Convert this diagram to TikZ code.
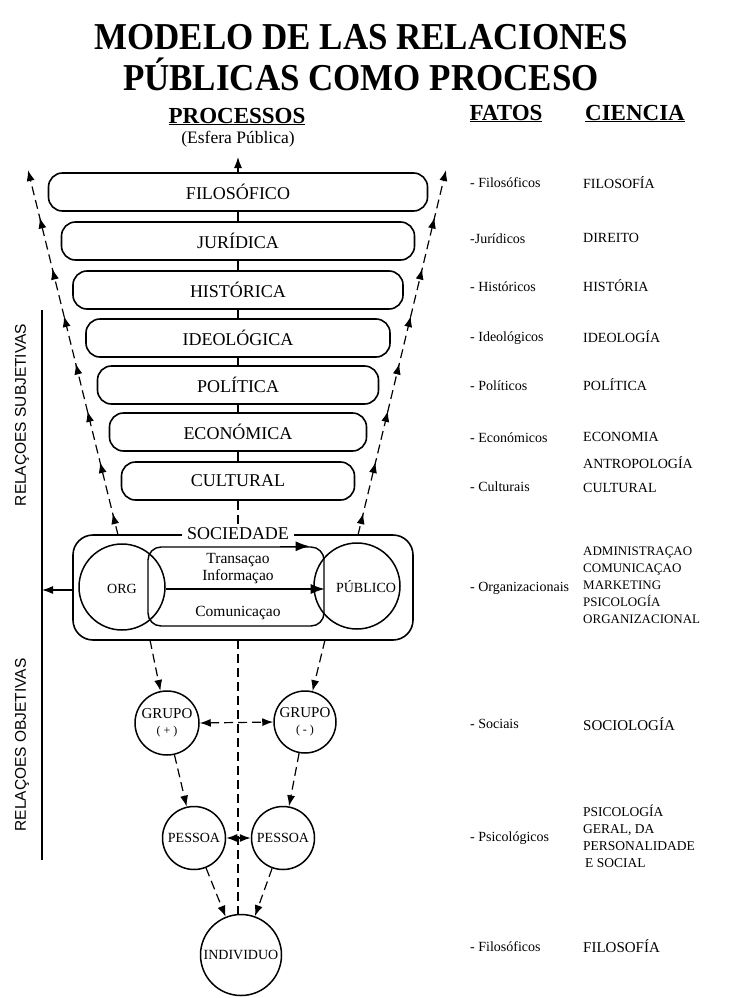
\documentclass[tikz,border=0pt]{standalone}
\usepackage{fontspec}
\setmainfont{Liberation Serif}
\newfontfamily\labelsans{Liberation Sans}
\usetikzlibrary{arrows.meta,decorations.markings,calc}
\newcommand\setfs[2]{\fontsize{#1}{#2}\selectfont}

\begin{document}
\begin{tikzpicture}[x=1pt,y=-1pt,
  every node/.style={inner sep=0pt},
  tip/.style={-{Latex[length=11pt,width=8pt]}},
  bigtip/.style={-{Latex[length=14pt,width=10pt]}},
  solidlink/.style={line width=1.2pt},
  procbox/.style={draw, line width=1.6pt, rounded corners=14pt,
    minimum height=38pt, font=\setfs{18}{20}},
  bubble/.style={draw, circle, line width=1.5pt, align=center},
  dashline/.style={line width=1.2pt, dash pattern=on 9pt off 5pt},
  dasharrow/.style={dashline, -{Latex[length=11pt,width=8pt]}},
  twoway/.style={dashline, {Latex[length=11pt,width=8pt]}-{Latex[length=11pt,width=8pt]}},
  riser/.style={dashline, -{Latex[length=11pt,width=8pt]},
    postaction={decorate},
    decoration={markings,
      mark=at position 0.06 with {\arrow{Latex[length=11pt,width=8pt]}},
      mark=at position 0.20 with {\arrow{Latex[length=11pt,width=8pt]}},
      mark=at position 0.34 with {\arrow{Latex[length=11pt,width=8pt]}},
      mark=at position 0.47 with {\arrow{Latex[length=11pt,width=8pt]}},
      mark=at position 0.60 with {\arrow{Latex[length=11pt,width=8pt]}},
      mark=at position 0.73 with {\arrow{Latex[length=11pt,width=8pt]}},
      mark=at position 0.87 with {\arrow{Latex[length=11pt,width=8pt]}}}},
  heading/.style={font=\bfseries\setfs{23}{25}, anchor=base},
  fact/.style={anchor=west, font=\setfs{14}{16}},
  science/.style={anchor=west, align=left, font=\setfs{14}{16}},
  sidelabel/.style={rotate=90, font=\labelsans\setfs{15.5}{17}}
]
\useasboundingbox (0,0) rectangle (729,998);

% title
\node[anchor=base, font=\bfseries\setfs{38}{40}] (title1) at (361,49)
  {\scalebox{0.92}[1]{MODELO DE LAS RELACIONES}};
\node[anchor=base, font=\bfseries\setfs{38}{40}] (title2) at (361,90)
  {\scalebox{0.92}[1]{PÚBLICAS COMO PROCESO}};

% column headings
\node[heading] (proc) at (237,123) {\underline{PROCESSOS}};
\node[anchor=base, font=\setfs{17.5}{19}] (esfera) at (238,143) {(Esfera Pública)};
\node[heading] (fatos) at (506,120) {\underline{FATOS}};
\node[heading] (ciencia) at (635,120) {\underline{CIENCIA}};

% stacked process levels
\node[procbox, minimum width=379pt] (filo) at (238,192) {FILOSÓFICO};
\node[procbox, minimum width=353pt] (jur)  at (238,241) {JURÍDICA};
\node[procbox, minimum width=330pt] (hist) at (238,290) {HISTÓRICA};
\node[procbox, minimum width=304pt] (ideo) at (238,338) {IDEOLÓGICA};
\node[procbox, minimum width=281pt] (pol)  at (238,385) {POLÍTICA};
\node[procbox, minimum width=257pt] (eco)  at (238,432) {ECONÓMICA};
\node[procbox, minimum width=233pt] (cult) at (238,481) {CULTURAL};

\coordinate (apex) at (238,157);
\draw[solidlink, tip] (filo.north) -- (apex);
\draw[solidlink] (filo.south) -- (jur.north);
\draw[solidlink] (jur.south) -- (hist.north);
\draw[solidlink] (hist.south) -- (ideo.north);
\draw[solidlink] (ideo.south) -- (pol.north);
\draw[solidlink] (pol.south) -- (eco.north);
\draw[solidlink] (eco.south) -- (cult.north);

% society frame
\node[draw, line width=1.6pt, rounded corners=20pt, minimum width=340pt,
  minimum height=105pt] (soc) at (243,587.5) {};
\node[fill=white, inner xsep=5pt, inner ysep=2pt, font=\setfs{18}{20}]
  (soclabel) at (238,534) {SOCIEDADE};
\draw[dashline] (cult.south) -- (soclabel.north);

\node[bubble, minimum size=86pt] (org) at (122,587) {};
\node[font=\setfs{14}{16}] (orglabel) at (122,589) {ORG};
\node[bubble, minimum size=86pt] (pub) at (357,586) {};
\node[font=\setfs{14}{16}] (publabel) at (366,587) {PÚBLICO};
\node[draw, line width=1.4pt, rounded corners=13pt, minimum width=176pt,
  minimum height=79pt] (canal) at (236,586.5) {};
\draw[line width=1.4pt, bigtip] ($(canal.north east)+(-45,0)$) -- ($(canal.north east)+(-15,0)$);
\draw[line width=1.2pt, bigtip] (org.east |- 0,589) -- (canal.east |- 0,589);
\node[font=\setfs{15.5}{17}] (trans) at (238,560) {Transaçao};
\node[font=\setfs{15.5}{17}] (info) at (238,577) {Informaçao};
\node[font=\setfs{15.5}{17}] (comu) at (238,613) {Comunicaçao};

% rising dashed flows on both flanks
\coordinate (riseLa) at (118,535);
\coordinate (riseLb) at (28,170);
\coordinate (riseRa) at (358,535);
\coordinate (riseRb) at (446,170);
\draw[riser] (riseLa) -- (riseLb);
\draw[riser] (riseRa) -- (riseRb);

% left bracket line with its two labels
\coordinate (vtop) at (42,310);
\coordinate (vbot) at (42,860);
\draw[line width=1.4pt] (vtop) -- (vbot);
\draw[line width=1.2pt, tip] (soc.west |- 0,590) -- (vtop |- 0,590);
\node[sidelabel] (subj) at (22,415) {RELAÇOES SUBJETIVAS};
\node[sidelabel] (obj) at (22,745) {RELAÇOES OBJETIVAS};

% groups, persons, individual
\node[bubble, minimum size=64pt, font=\setfs{15}{15}] (gplus) at (167,723)
  {GRUPO\\[1pt]{\setfs{12}{12}( + )}};
\node[bubble, minimum size=62pt, font=\setfs{15}{15}] (gminus) at (305,722)
  {GRUPO\\[1pt]{\setfs{12}{12}( - )}};
\node[bubble, minimum size=63pt, font=\setfs{14}{16}] (pleft) at (194,838) {PESSOA};
\node[bubble, minimum size=63pt, font=\setfs{14}{16}] (pright) at (283,838) {PESSOA};
\node[bubble, minimum size=81pt, font=\setfs{14}{16}] (indiv) at (241,955) {INDIVIDUO};

\coordinate (dropL) at (150,640);
\coordinate (dropR) at (325,640);
\coordinate (dropC) at (238,640);
\draw[dasharrow] (dropL) -- (gplus);
\draw[dasharrow] (dropR) -- (gminus);
\draw[dashline] (dropC) -- (indiv.north -| dropC);
\draw[twoway] (gplus.east) -- (gminus.west);
\draw[dasharrow] (gplus) -- (pleft);
\draw[dasharrow] (gminus) -- (pright);
\draw[twoway] (pleft.east) -- (pright.west);
\draw[dasharrow] (pleft) -- (indiv);
\draw[dasharrow] (pright) -- (indiv);

% facts column
\node[fact] (f1) at (470,183) {- Filosóficos};
\node[fact] (f2) at (470,239) {-Jurídicos};
\node[fact] (f3) at (470,287) {- Históricos};
\node[fact] (f4) at (470,338) {- Ideológicos};
\node[fact] (f5) at (470,386) {- Políticos};
\node[fact] (f6) at (470,438) {- Económicos};
\node[fact] (f7) at (470,487) {- Culturais};
\node[fact] (f8) at (470,588) {- Organizacionais};
\node[fact] (f9) at (470,724) {- Sociais};
\node[fact] (f10) at (470,838) {- Psicológicos};
\node[fact] (f11) at (470,947) {- Filosóficos};

% sciences column
\node[science] (s1) at (583,183) {FILOSOFÍA};
\node[science] (s2) at (583,238) {DIREITO};
\node[science] (s3) at (583,286) {HISTÓRIA};
\node[science] (s4) at (583,337) {IDEOLOGÍA};
\node[science] (s5) at (583,385) {POLÍTICA};
\node[science] (s6) at (583,437) {ECONOMIA};
\node[science, font=\setfs{14}{24}] (s7) at (583,475) {ANTROPOLOGÍA\\CULTURAL};
\node[science, font=\setfs{13}{17}] (s8) at (583,585)
  {ADMINISTRAÇAO\\COMUNICAÇAO\\MARKETING\\PSICOLOGÍA\\ORGANIZACIONAL};
\node[science, font=\setfs{15}{17}] (s9) at (583,724) {SOCIOLOGÍA};
\node[science, font=\setfs{13.5}{17}] (s10) at (583,836)
  {PSICOLOGÍA\\GERAL, DA\\PERSONALIDADE\\\hspace{2pt}E SOCIAL};
\node[science, font=\setfs{15}{17}] (s11) at (583,946) {FILOSOFÍA};
\end{tikzpicture}
\end{document}
